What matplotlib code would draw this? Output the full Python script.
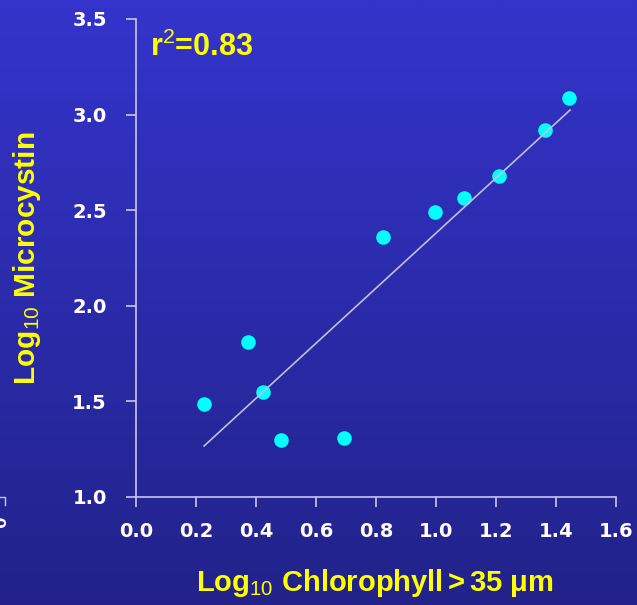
import numpy as np
import matplotlib
matplotlib.use("Agg")
import matplotlib.pyplot as plt
from matplotlib.colors import LinearSegmentedColormap

# Data
chl = [0.227, 0.373, 0.423, 0.483, 0.693, 0.823, 0.997, 1.093, 1.21, 1.363, 1.443]
mcy = [1.486, 1.81, 1.549, 1.298, 1.309, 2.36, 2.49, 2.565, 2.68, 2.92, 3.087]
fit_x = [0.227, 1.447]
fit_y = [1.267, 3.024]
xticks = [0.0, 0.2, 0.4, 0.6, 0.8, 1.0, 1.2, 1.4, 1.6]
yticks = [1.0, 1.5, 2.0, 2.5, 3.0, 3.5]

plt.rcParams['font.family'] = ['Liberation Sans', 'DejaVu Sans']
plt.rcParams['mathtext.fontset'] = 'custom'
plt.rcParams['mathtext.rm'] = 'Liberation Sans'
plt.rcParams['mathtext.bf'] = 'Liberation Sans:bold'
plt.rcParams['mathtext.default'] = 'bf'

W, H = 637, 605
fig = plt.figure(figsize=(W / 100, H / 100), dpi=100)

# gradient background
bg = fig.add_axes([0, 0, 1, 1], zorder=-10)
cmap = LinearSegmentedColormap.from_list("bg", ["#3434cc", "#22228a"])
grad = np.linspace(0, 1, 256).reshape(-1, 1)
bg.imshow(grad, aspect="auto", cmap=cmap, extent=[0, 1, 0, 1], origin="upper")
bg.set_xlim(0, 1)
bg.set_ylim(0, 1)
bg.axis("off")

# stray fragment of neighbouring chart at the left edge
bg.plot([0, 5 / W, 5 / W], [1 - 497 / H, 1 - 497 / H, 1 - 505 / H], color="#c8c8e8", lw=1)
bg.text(1 / W, 1 - 522 / H, "0", color="white", fontsize=15, fontweight="bold",
        rotation=90, ha="center", va="center", clip_on=False)

l, r, t, b = 136, 616, 19, 497
ax = fig.add_axes([l / W, 1 - b / H, (r - l) / W, (b - t) / H])
ax.patch.set_alpha(0)

ax.scatter(chl, mcy, s=110, color="#00ffff", zorder=3, linewidths=0)
ax.plot(fit_x, fit_y, color="#c0c0d8", lw=1.2, zorder=4)

ax.set_xlim(0, 1.6)
ax.set_ylim(1.0, 3.5)
ax.set_xticks(xticks)
ax.set_yticks(yticks)
ax.set_xticklabels([f"{v:.1f}" for v in xticks])
ax.set_yticklabels([f"{v:.1f}" for v in yticks])
for s in ["top", "right"]:
    ax.spines[s].set_visible(False)
for s in ["left", "bottom"]:
    ax.spines[s].set_color("#c8c8e8")
    ax.spines[s].set_linewidth(1.2)
ax.tick_params(axis="both", colors="#c8c8e8", length=7, width=1.2, direction="out")
ax.tick_params(axis="x", pad=11)
ax.tick_params(axis="y", pad=14)
for lab in ax.get_xticklabels() + ax.get_yticklabels():
    lab.set_color("white")
    lab.set_fontsize(14)
    lab.set_fontweight("bold")
    lab.set_family(["DejaVu Sans"])

fig.text(375 / W, 1 - 583 / H, r"Log$_{\mathrm{10}}$ Chlorophyll$\,$>$\,$35 $\mu$m",
         color="#ffff00", fontsize=21, fontweight="bold", ha="center", va="center")
fig.text(27 / W, 1 - 258 / H, r"Log$_{\mathrm{10}}$ Microcystin",
         color="#ffff00", fontsize=21.5, fontweight="bold", ha="center", va="center", rotation=90)
fig.text(150 / W, 1 - 47 / H, r"r$^{\mathrm{2}}$=0.83",
         color="#ffff00", fontsize=22, fontweight="bold", ha="left", va="center")

fig.savefig("out.png", dpi=100)
